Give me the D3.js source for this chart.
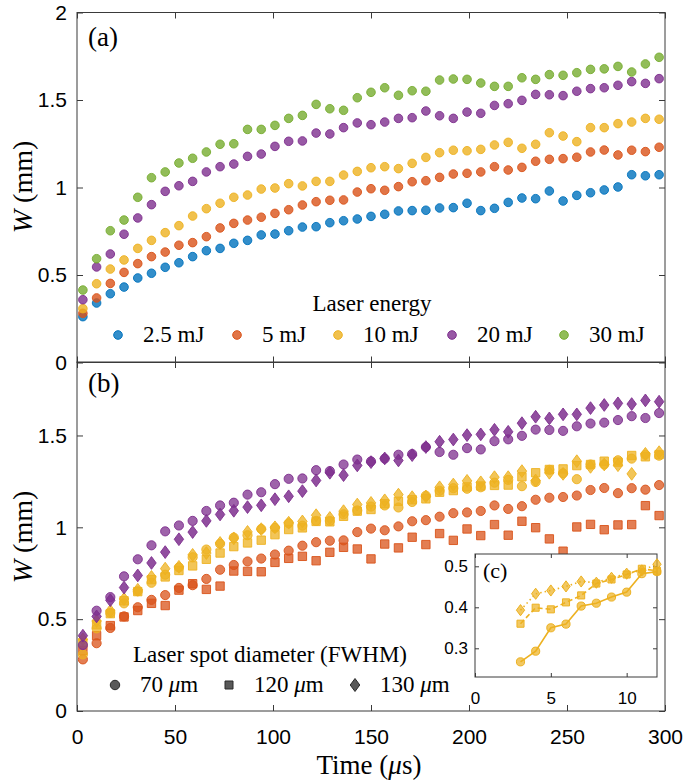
<!DOCTYPE html>
<html>
<head>
<meta charset="utf-8">
<script src="https://cdn.jsdelivr.net/npm/d3@7"></script>
<style>
  body { margin: 0; background: #fff; }
  svg { display: block; }
</style>
</head>
<body>
<script>
// Time axis (µs), shared by every series
const time = [3,10,17,24,31,38,45,52,59,66,73,80,87,94,101,108,115,122,129,136,143,150,
  157,164,171,178,185,192,199,206,213,220,227,234,241,248,255,262,269,276,283,290,297];

// (a) laser energy series, 70 µm spot
const w25 = [0.262,0.34,0.393,0.431,0.483,0.51,0.544,0.57,0.605,0.639,0.652,0.681,0.698,0.729,0.734,0.753,0.774,0.776,0.799,
  0.81,0.82,0.835,0.847,0.866,0.868,0.87,0.883,0.885,0.91,0.868,0.881,0.915,0.94,0.936,0.98,0.923,0.955,0.97,0.986,1.003,1.073,1.067,1.073];
const w5 = [0.281,0.369,0.452,0.515,0.565,0.605,0.631,0.67,0.685,0.719,0.769,0.795,0.814,0.83,0.852,0.873,0.9,0.919,0.927,
  0.929,0.974,0.993,0.984,1.005,1.033,1.039,1.058,1.077,1.081,1.089,1.119,1.1,1.115,1.15,1.161,1.165,1.173,1.203,1.214,1.186,1.213,1.205,1.23];
const w10 = [0.308,0.45,0.534,0.586,0.652,0.698,0.742,0.782,0.837,0.879,0.91,0.944,0.957,0.991,0.997,1.022,1.009,1.035,1.035,
  1.071,1.092,1.113,1.119,1.108,1.138,1.172,1.199,1.213,1.21,1.218,1.243,1.258,1.224,1.247,1.313,1.294,1.262,1.342,1.342,1.365,1.374,1.395,1.39];
const w20 = [0.359,0.546,0.62,0.733,0.826,0.902,0.978,1.01,1.035,1.089,1.119,1.134,1.178,1.191,1.235,1.264,1.266,1.311,1.306,
  1.342,1.369,1.359,1.374,1.395,1.399,1.437,1.41,1.395,1.431,1.424,1.469,1.479,1.498,1.532,1.53,1.525,1.55,1.565,1.57,1.584,1.605,1.595,1.622];
const w30 = [0.414,0.593,0.753,0.814,0.944,1.056,1.089,1.14,1.167,1.203,1.247,1.25,1.332,1.332,1.355,1.395,1.412,1.475,1.45,
  1.441,1.513,1.544,1.57,1.527,1.553,1.55,1.614,1.62,1.618,1.597,1.578,1.578,1.627,1.618,1.645,1.641,1.656,1.675,1.678,1.692,1.66,1.706,1.744];

// (b) other spot diameters
const w5_120 = [0.33,0.41,0.465,0.512,0.547,0.586,0.574,0.658,0.693,0.662,0.68,0.762,0.76,0.758,0.809,0.831,0.842,0.818,0.864,0.891,
  0.882,0.828,0.909,0.888,0.946,0.906,0.966,0.929,0.991,0.955,1.015,0.957,1.033,0.998,0.937,0.87,1.002,1.016,0.987,1.013,1.015,1.118,1.064];
const w10_120 = [0.37,0.47,0.53,0.6,0.65,0.715,0.73,0.765,0.79,0.826,0.86,0.895,0.915,0.93,
  0.96,0.988,0.997,1.032,1.03,1.06,1.088,1.097,1.128,1.142,1.15,1.155,1.191,1.2,1.22,1.225,1.228,1.23,1.275,1.297,1.315,1.318,1.336,1.342,1.36,1.355,1.391,1.384,1.396];
const w10_130 = [0.39,0.49,0.545,0.61,0.66,0.73,0.775,0.785,0.85,0.86,0.915,0.94,0.975,0.99,
  1.0,1.025,1.032,1.066,1.051,1.088,1.124,1.133,1.147,1.178,1.164,1.168,1.218,1.233,1.253,1.245,1.273,1.273,1.306,1.255,1.297,1.291,1.36,1.329,1.342,1.338,1.291,1.4,1.409];
const w20_130 = [0.41,0.515,0.603,0.672,0.738,0.806,0.865,0.935,0.974,1.035,1.07,1.09,1.11,1.12,1.153,1.169,1.197,1.255,1.297,1.284,
  1.337,1.355,1.375,1.364,1.393,1.437,1.466,1.478,1.502,1.506,1.531,1.52,1.567,1.602,1.593,1.615,1.615,1.649,1.666,1.675,1.671,1.691,1.684];

// (c) inset, 10 mJ
const insetX = [3,4,5,6,7,8,9,10,11,12];
const insetC = [0.267,0.293,0.35,0.359,0.403,0.41,0.425,0.437,0.482,0.487];
const insetS = [0.36,0.399,0.395,0.412,0.429,0.458,0.468,0.48,0.494,0.489];
const insetD = [0.393,0.433,0.441,0.451,0.463,0.46,0.472,0.482,0.49,0.505];

const energyLabels = ["2.5 mJ", "5 mJ", "10 mJ", "20 mJ", "30 mJ"];
const spotLabels = ["70 \u03bcm", "120 \u03bcm", "130 \u03bcm"];
const xTicks = [0, 50, 100, 150, 200, 250, 300];

const C = { blue: "#0072BD", orange: "#D95319", yellow: "#EDB120", purple: "#7E2F8E", green: "#77AC30" };
const SANS = "'Liberation Sans', Arial, sans-serif";
const SERIF = "'Liberation Serif', 'DejaVu Serif', serif";
const AXIS = "#3a3a3a";

// matlab-like diamond
const diamond = {
  draw(ctx, size) {
    const hw = Math.sqrt(size / 2.7), hh = hw * 1.35;
    ctx.moveTo(0, -hh); ctx.lineTo(hw, 0); ctx.lineTo(0, hh); ctx.lineTo(-hw, 0); ctx.closePath();
  }
};

const svg = d3.select("body").append("svg").attr("width", 685).attr("height", 782);

const x = d3.scaleLinear([0, 300], [77, 665]);
const ya = d3.scaleLinear([0, 2], [362.5, 12.5]);
const yb = d3.scaleLinear([0, 1.9], [711, 362]);

function frame(y, ticksY, labelsX) {
  const g = svg.append("g");
  const [y0, y1] = y.range();
  g.append("g").attr("transform", `translate(0,${y0})`)
    .call(d3.axisBottom(x).tickValues(xTicks).tickSize(-6).tickSizeOuter(0).tickPadding(18)
      .tickFormat(labelsX ? d => d : () => ""));
  g.append("g").attr("transform", `translate(0,${y1})`)
    .call(d3.axisTop(x).tickValues(xTicks).tickSize(-6).tickSizeOuter(0).tickFormat(() => ""));
  g.append("g").attr("transform", `translate(${x(0)},0)`)
    .call(d3.axisLeft(y).tickValues(ticksY).tickSize(-6).tickSizeOuter(0).tickPadding(10)
      .tickFormat(d => String(d)));
  g.append("g").attr("transform", `translate(${x(300)},0)`)
    .call(d3.axisRight(y).tickValues(ticksY).tickSize(-6).tickSizeOuter(0).tickFormat(() => ""));
  g.selectAll(".domain").remove();
  g.selectAll(".tick line").attr("stroke", AXIS);
  g.selectAll(".tick text").attr("font-family", SANS).attr("font-size", 21).attr("fill", "#000");
  g.append("rect").attr("x", x(0)).attr("y", y1).attr("width", x(300) - x(0)).attr("height", y0 - y1)
    .attr("fill", "none").attr("stroke", AXIS).attr("stroke-width", 1);
  return g;
}

function scatter(y, values, color, type, size, op) {
  const sym = d3.symbol().type(type).size(size);
  svg.append("g").selectAll("path").data(values).join("path")
    .attr("transform", (d, i) => `translate(${x(time[i])},${y(d)})`)
    .attr("d", sym)
    .attr("fill", color).attr("fill-opacity", op)
    .attr("stroke", color).attr("stroke-opacity", 0.9).attr("stroke-width", 1);
}

// ---- panel (a)
frame(ya, [0, 0.5, 1, 1.5, 2], false);
const energy = [[w25, C.blue], [w5, C.orange], [w10, C.yellow], [w20, C.purple], [w30, C.green]];
energy.forEach(([v, c]) => scatter(ya, v, c, d3.symbolCircle, 58, 0.8));

// ---- panel (b)
frame(yb, [0, 0.5, 1, 1.5], true);
scatter(yb, w5, C.orange, d3.symbolCircle, 66, 0.75);
scatter(yb, w5_120, C.orange, d3.symbolSquare, 70, 0.75);
scatter(yb, w10, C.yellow, d3.symbolCircle, 66, 0.75);
scatter(yb, w10_120, C.yellow, d3.symbolSquare, 70, 0.75);
scatter(yb, w10_130, C.yellow, diamond, 60, 0.75);
scatter(yb, w20, C.purple, d3.symbolCircle, 66, 0.75);
scatter(yb, w20_130, C.purple, diamond, 60, 0.85);

// panel letters
[["(a)", 46], ["(b)", 392]].forEach(([s, yy]) => {
  svg.append("text").attr("x", 88).attr("y", yy)
    .attr("font-family", SERIF).attr("font-size", 27).text(s);
});

// y labels
[[ya, 187], [yb, 537]].forEach(([y, cy]) => {
  const t = svg.append("text").attr("transform", `translate(32,${cy}) rotate(-90)`)
    .attr("text-anchor", "middle").attr("font-family", SERIF).attr("font-size", 28);
  t.append("tspan").attr("font-style", "italic").text("W");
  t.append("tspan").text(" (mm)");
});

// x label
const xl = svg.append("text").attr("x", 369).attr("y", 774).attr("text-anchor", "middle")
  .attr("font-family", SERIF).attr("font-size", 27);
xl.append("tspan").text("Time (");
xl.append("tspan").attr("font-style", "italic").text("\u03bc");
xl.append("tspan").text("s)");

// ---- legend (a)
const lg = svg.append("g");
lg.append("text").attr("x", 372).attr("y", 311).attr("text-anchor", "middle")
  .attr("font-family", SERIF).attr("font-size", 23).text("Laser energy");
const legX = [118, 237, 338, 452, 564];
energy.forEach(([v, c], i) => {
  lg.append("path").attr("transform", `translate(${legX[i]},335)`)
    .attr("d", d3.symbol().type(d3.symbolCircle).size(58))
    .attr("fill", c).attr("fill-opacity", 0.8).attr("stroke", c);
  lg.append("text").attr("x", legX[i] + 25).attr("y", 342)
    .attr("font-family", SERIF).attr("font-size", 23).text(energyLabels[i]);
});

// ---- legend (b)
const lb = svg.append("g");
lb.append("text").attr("x", 270).attr("y", 662).attr("text-anchor", "middle")
  .attr("font-family", SERIF).attr("font-size", 23).text("Laser spot diameter (FWHM)");
const spotX = [115, 229, 355];
const spotSym = [[d3.symbolCircle, 70], [d3.symbolSquare, 64], [diamond, 62]];
spotSym.forEach(([type, size], i) => {
  lb.append("path").attr("transform", `translate(${spotX[i]},685)`)
    .attr("d", d3.symbol().type(type).size(size))
    .attr("fill", "#3c3c3c").attr("fill-opacity", 0.85).attr("stroke", "#2a2a2a");
  const t = lb.append("text").attr("x", spotX[i] + 25).attr("y", 692)
    .attr("font-family", SERIF).attr("font-size", 23);
  const [num, unit] = spotLabels[i].split(" ");
  t.append("tspan").text(num + " ");
  t.append("tspan").attr("font-style", "italic").text(unit[0]);
  t.append("tspan").text(unit.slice(1));
});

// ---- inset (c)
const xi = d3.scaleLinear([0, 12], [475, 657]);
const yi = d3.scaleLinear([0.23, 0.53], [677, 554]);
const gi = svg.append("g");
gi.append("rect").attr("x", 475).attr("y", 554).attr("width", 182).attr("height", 123).attr("fill", "#fff");
gi.append("g").attr("transform", "translate(0,677)")
  .call(d3.axisBottom(xi).tickValues([0, 5, 10]).tickSize(-4).tickSizeOuter(0).tickPadding(15));
gi.append("g").attr("transform", "translate(0,554)")
  .call(d3.axisTop(xi).tickValues([0, 5, 10]).tickSize(-4).tickSizeOuter(0).tickFormat(() => ""));
gi.append("g").attr("transform", "translate(475,0)")
  .call(d3.axisLeft(yi).tickValues([0.3, 0.4, 0.5]).tickSize(-4).tickSizeOuter(0).tickPadding(7)
    .tickFormat(d => String(d)));
gi.append("g").attr("transform", "translate(657,0)")
  .call(d3.axisRight(yi).tickValues([0.3, 0.4, 0.5]).tickSize(-4).tickSizeOuter(0).tickFormat(() => ""));
gi.selectAll(".domain").remove();
gi.selectAll(".tick line").attr("stroke", AXIS);
gi.selectAll(".tick text").attr("font-family", SANS).attr("font-size", 17).attr("fill", "#000");
gi.append("rect").attr("x", 475).attr("y", 554).attr("width", 182).attr("height", 123)
  .attr("fill", "none").attr("stroke", AXIS);

const insetSeries = [[insetC, d3.symbolCircle, 52, null], [insetS, d3.symbolSquare, 50, "5,3"], [insetD, diamond, 46, "1.5,3"]];
insetSeries.forEach(([v, type, size, dash]) => {
  const line = d3.line().x((d, i) => xi(insetX[i])).y(d => yi(d));
  gi.append("path").datum(v).attr("d", line).attr("fill", "none")
    .attr("stroke", C.yellow).attr("stroke-width", 1.6).attr("stroke-dasharray", dash);
  gi.append("g").selectAll("path").data(v).join("path")
    .attr("transform", (d, i) => `translate(${xi(insetX[i])},${yi(d)})`)
    .attr("d", d3.symbol().type(type).size(size))
    .attr("fill", C.yellow).attr("fill-opacity", 0.7).attr("stroke", C.yellow);
});
gi.append("text").attr("x", 483).attr("y", 578).attr("font-family", SERIF).attr("font-size", 22).text("(c)");
</script>
</body>
</html>
